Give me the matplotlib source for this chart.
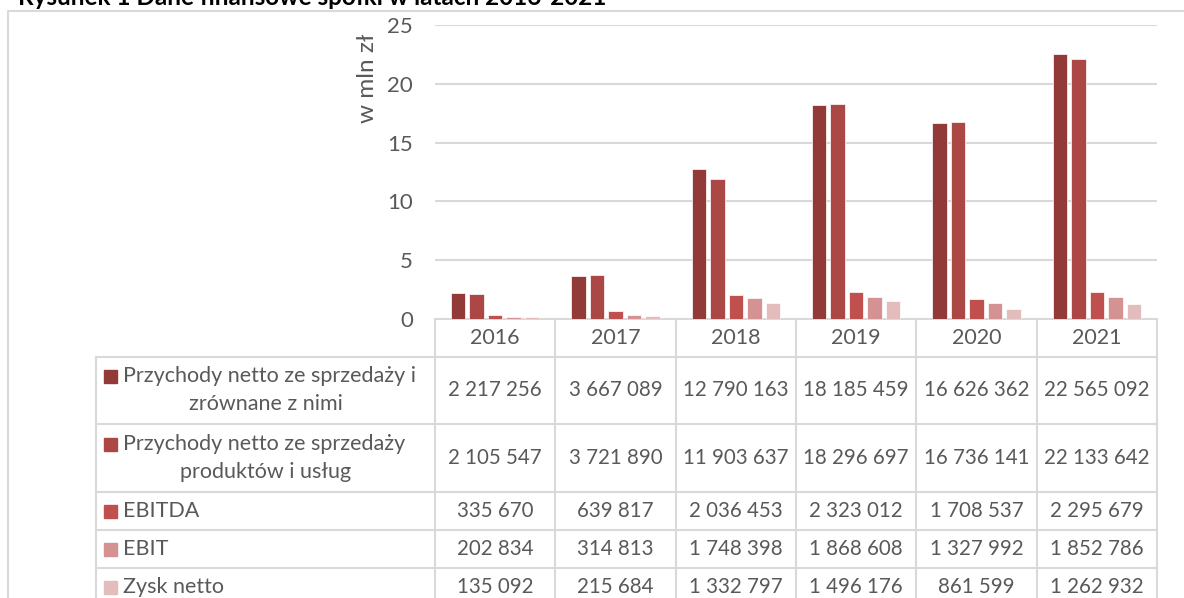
import matplotlib
matplotlib.use("Agg")
import matplotlib.pyplot as plt
from matplotlib.patches import Rectangle
import numpy as np

years = ["2016", "2017", "2018", "2019", "2020", "2021"]
series_names = [
    "Przychody netto ze sprzedaży i\nzrównane z nimi",
    "Przychody netto ze sprzedaży\nproduktów i usług",
    "EBITDA",
    "EBIT",
    "Zysk netto",
]
przychody_zrownane = [2217256, 3667089, 12790163, 18185459, 16626362, 22565092]
przychody_produkty = [2105547, 3721890, 11903637, 18296697, 16736141, 22133642]
ebitda = [335670, 639817, 2036453, 2323012, 1708537, 2295679]
ebit = [202834, 314813, 1748398, 1868608, 1327992, 1852786]
zysk_netto = [135092, 215684, 1332797, 1496176, 861599, 1262932]
series_values = [przychody_zrownane, przychody_produkty, ebitda, ebit, zysk_netto]
colors = ["#923A38", "#AB4744", "#C0504D", "#D49392", "#E3BCBC"]

plt.rcParams['font.family'] = ['Lato', 'DejaVu Sans']
TXT = "#595959"
GRID = "#D9D9D9"

# canvas in pixels
W, H = 1184, 598
fig = plt.figure(figsize=(W / 100, H / 100), dpi=100, facecolor="white")

# layout of the plot area / table (pixels)
left_px, right_px = 435, 1157
top_px, zero_px = 25, 319
label_left = 96
col_w = (right_px - left_px) / len(years)
row_edges = [319, 357, 424, 492, 530, 568, 606]

ax = fig.add_axes([left_px / W, 1 - zero_px / H,
                   (right_px - left_px) / W, (zero_px - top_px) / H])
x = np.arange(len(years))
pitch = 18.5 / col_w
bw = 14.5 / col_w
for i, vals in enumerate(series_values):
    ax.bar(x + (i - 2) * pitch, np.array(vals) / 1e6, width=bw,
           color=colors[i], edgecolor="white", linewidth=0.5, zorder=3)
ax.set_xlim(-0.5, len(years) - 0.5)
ax.set_ylim(0, 25)
ax.set_yticks([0, 5, 10, 15, 20, 25])
ax.set_xticks([])
ax.yaxis.grid(True, color=GRID, linewidth=1.5, zorder=0)
for s in ax.spines.values():
    s.set_visible(False)
ax.tick_params(axis="y", length=0, pad=16, labelsize=16, labelcolor=TXT)
fig.text(368 / W, 1 - 78 / H, "w mln zł", rotation=90, ha="center",
         va="center", fontsize=17.5, color=TXT)

# overlay in pixel coordinates for the data table and frame
tab = fig.add_axes([0, 0, 1, 1], zorder=-1)
tab.set_xlim(0, W)
tab.set_ylim(H, 0)
tab.axis("off")

lw = 1.5
# outer frame
tab.plot([8, 8, W + 5], [H + 5, 11, 11], color=GRID, lw=lw)

col_edges = [left_px + col_w * i for i in range(len(years) + 1)]
tab.plot([left_px, right_px], [row_edges[0], row_edges[0]], color=GRID, lw=lw)
for y in row_edges[1:]:
    tab.plot([label_left, right_px], [y, y], color=GRID, lw=lw)
tab.plot([label_left, label_left], [row_edges[1], row_edges[-1]], color=GRID, lw=lw)
for cx in col_edges:
    tab.plot([cx, cx], [row_edges[0], row_edges[-1]], color=GRID, lw=lw)

fs = 14.8
fl = 15.5
for j, yr in enumerate(years):
    cx = left_px + col_w * (j + 0.5)
    tab.text(cx, (row_edges[0] + row_edges[1]) / 2, yr, ha="center",
             va="center", fontsize=15.5, color=TXT)

label_center = (label_left + left_px) / 2
for i, name in enumerate(series_names):
    yc = (row_edges[i + 1] + row_edges[i + 2]) / 2
    for j, v in enumerate(series_values[i]):
        cx = left_px + col_w * (j + 0.5)
        tab.text(cx, yc, f"{v:,}".replace(",", " "), ha="center",
                 va="center", fontsize=fs, color=TXT)
    lines = name.split("\n")
    if len(lines) == 2:
        y1, y2 = yc - 14, yc + 14
        tab.text(123, y1, lines[0], ha="left", va="center", fontsize=fl, color=TXT)
        tab.text(label_center, y2, lines[1], ha="center", va="center",
                 fontsize=fl, color=TXT)
    else:
        y1 = yc
        tab.text(123, y1, lines[0], ha="left", va="center", fontsize=fl, color=TXT)
    tab.add_patch(Rectangle((104, y1 - 6.5), 13, 13, color=colors[i]))

fig.text(18 / W, 1 - 5 / H, "Rysunek 1 Dane finansowe spółki w latach 2016-2021",
         ha="left", va="baseline", fontsize=17.5, fontweight="bold", color="black")

fig.savefig("out.png", dpi=100, facecolor="white")
